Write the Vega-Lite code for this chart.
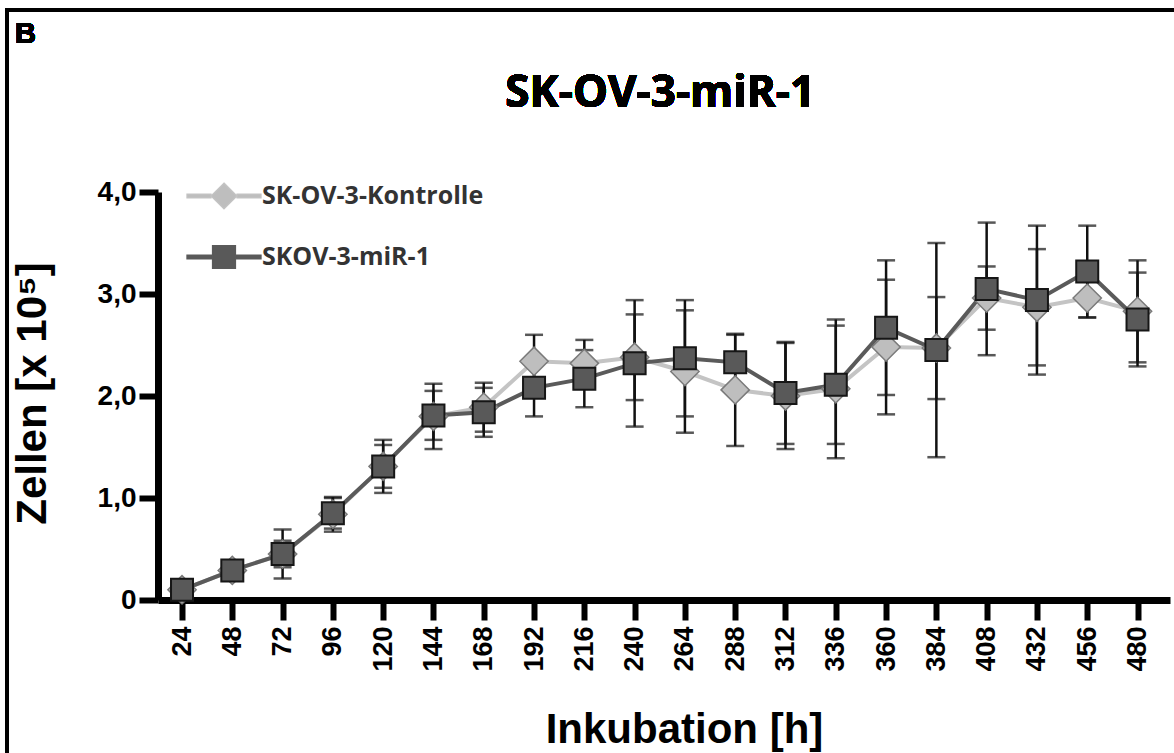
{
  "$schema": "https://vega.github.io/schema/vega-lite/v6.json",
  "autosize": {"type": "none"},
  "padding": {"left": 158, "top": 192, "right": 4, "bottom": 153},
  "width": 1012,
  "height": 408,
  "background": "white",
  "config": {"view": {"stroke": null}},
  "data": {"values": [
    {"hour": 24, "series": "SK-OV-3-Kontrolle", "mean": 0.10, "sd": 0.02},
    {"hour": 48, "series": "SK-OV-3-Kontrolle", "mean": 0.29, "sd": 0.04},
    {"hour": 72, "series": "SK-OV-3-Kontrolle", "mean": 0.45, "sd": 0.24},
    {"hour": 96, "series": "SK-OV-3-Kontrolle", "mean": 0.84, "sd": 0.17},
    {"hour": 120, "series": "SK-OV-3-Kontrolle", "mean": 1.31, "sd": 0.26},
    {"hour": 144, "series": "SK-OV-3-Kontrolle", "mean": 1.80, "sd": 0.32},
    {"hour": 168, "series": "SK-OV-3-Kontrolle", "mean": 1.89, "sd": 0.24},
    {"hour": 192, "series": "SK-OV-3-Kontrolle", "mean": 2.34, "sd": 0.26},
    {"hour": 216, "series": "SK-OV-3-Kontrolle", "mean": 2.32, "sd": 0.23},
    {"hour": 240, "series": "SK-OV-3-Kontrolle", "mean": 2.38, "sd": 0.42},
    {"hour": 264, "series": "SK-OV-3-Kontrolle", "mean": 2.24, "sd": 0.60},
    {"hour": 288, "series": "SK-OV-3-Kontrolle", "mean": 2.06, "sd": 0.55},
    {"hour": 312, "series": "SK-OV-3-Kontrolle", "mean": 2.00, "sd": 0.52},
    {"hour": 336, "series": "SK-OV-3-Kontrolle", "mean": 2.07, "sd": 0.68},
    {"hour": 360, "series": "SK-OV-3-Kontrolle", "mean": 2.48, "sd": 0.66},
    {"hour": 384, "series": "SK-OV-3-Kontrolle", "mean": 2.47, "sd": 0.50},
    {"hour": 408, "series": "SK-OV-3-Kontrolle", "mean": 2.96, "sd": 0.31},
    {"hour": 432, "series": "SK-OV-3-Kontrolle", "mean": 2.87, "sd": 0.57},
    {"hour": 456, "series": "SK-OV-3-Kontrolle", "mean": 2.96, "sd": 0.19},
    {"hour": 480, "series": "SK-OV-3-Kontrolle", "mean": 2.83, "sd": 0.50},
    {"hour": 24, "series": "SKOV-3-miR-1", "mean": 0.10, "sd": 0.02},
    {"hour": 48, "series": "SKOV-3-miR-1", "mean": 0.29, "sd": 0.03},
    {"hour": 72, "series": "SKOV-3-miR-1", "mean": 0.45, "sd": 0.13},
    {"hour": 96, "series": "SKOV-3-miR-1", "mean": 0.85, "sd": 0.15},
    {"hour": 120, "series": "SKOV-3-miR-1", "mean": 1.31, "sd": 0.21},
    {"hour": 144, "series": "SKOV-3-miR-1", "mean": 1.81, "sd": 0.24},
    {"hour": 168, "series": "SKOV-3-miR-1", "mean": 1.84, "sd": 0.24},
    {"hour": 192, "series": "SKOV-3-miR-1", "mean": 2.08, "sd": 0.28},
    {"hour": 216, "series": "SKOV-3-miR-1", "mean": 2.17, "sd": 0.28},
    {"hour": 240, "series": "SKOV-3-miR-1", "mean": 2.32, "sd": 0.62},
    {"hour": 264, "series": "SKOV-3-miR-1", "mean": 2.37, "sd": 0.57},
    {"hour": 288, "series": "SKOV-3-miR-1", "mean": 2.33, "sd": 0.27},
    {"hour": 312, "series": "SKOV-3-miR-1", "mean": 2.03, "sd": 0.50},
    {"hour": 336, "series": "SKOV-3-miR-1", "mean": 2.11, "sd": 0.58},
    {"hour": 360, "series": "SKOV-3-miR-1", "mean": 2.67, "sd": 0.66},
    {"hour": 384, "series": "SKOV-3-miR-1", "mean": 2.45, "sd": 1.05},
    {"hour": 408, "series": "SKOV-3-miR-1", "mean": 3.05, "sd": 0.65},
    {"hour": 432, "series": "SKOV-3-miR-1", "mean": 2.94, "sd": 0.73},
    {"hour": 456, "series": "SKOV-3-miR-1", "mean": 3.22, "sd": 0.45},
    {"hour": 480, "series": "SKOV-3-miR-1", "mean": 2.75, "sd": 0.46}
  ]},
  "encoding": {
    "x": {"field": "hour", "type": "quantitative",
      "scale": {"domain": [12.54, 495.5], "nice": false, "zero": false},
      "axis": {"title": "Inkubation [h]", "values": [24,48,72,96,120,144,168,192,216,240,264,288,312,336,360,384,408,432,456,480],
        "grid": false, "labelAngle": -90, "labelFont": "Liberation Sans", "labelFontSize": 27, "labelFontWeight": "bold", "labelColor": "#000",
        "labelPadding": 6, "tickSize": 20, "tickWidth": 6, "tickColor": "#000", "domainWidth": 7, "domainColor": "#000",
        "labelOverlap": false, "labelBound": false, "labelFlush": false,
        "titleFont": "Liberation Sans", "titleFontSize": 42, "titleFontWeight": "bold", "titleColor": "#000",
        "titleX": 526, "titleY": 142, "titleBaseline": "alphabetic", "titleAlign": "center"}},
    "y": {"field": "mean", "type": "quantitative",
      "scale": {"domain": [0, 4], "nice": false, "zero": false},
      "axis": {"title": "Zellen [x 10⁵]", "values": [0,1,2,3,4], "grid": false,
        "labelExpr": "datum.value === 0 ? '0' : replace(format(datum.value, '.1f'), '.', ',')",
        "labelFont": "Liberation Sans", "labelFontSize": 28, "labelFontWeight": "bold", "labelColor": "#000", "labelPadding": 3,
        "tickSize": 19, "tickWidth": 6, "tickColor": "#000", "domainWidth": 7, "domainColor": "#000",
        "labelOverlap": false, "labelBound": false, "labelFlush": false,
        "titleFont": "Liberation Sans", "titleFontSize": 42, "titleFontWeight": "bold", "titleColor": "#000",
        "titleX": -113, "titleY": 201, "titleBaseline": "alphabetic", "titleAlign": "center", "titleAngle": -90}}
  },
  "layer": [
    {
      "mark": {"type": "line", "strokeWidth": 4},
      "encoding": {
        "stroke": {"field": "series", "type": "nominal",
          "scale": {"domain": ["SK-OV-3-Kontrolle", "SKOV-3-miR-1"], "range": ["#c4c4c4", "#5a5a5a"]},
          "legend": {"orient": "none", "legendX": 52, "legendY": -10, "title": null,
            "symbolSize": 676, "labelOffset": 24, "rowPadding": 31,
            "labelFont": "Open Sans", "labelFontWeight": "bold", "labelFontSize": 25, "labelColor": "#333", "labelLimit": 500,
            "encoding": {"symbols": {
              "shape": {"value": {"expr": "datum.value === 'SK-OV-3-Kontrolle' ? 'M-2.85,-0.15L-1,-0.15L-1,0.15L-2.85,0.15Z M1,-0.15L2.85,-0.15L2.85,0.15L1,0.15Z M0,-1L1,0L0,1L-1,0Z' : 'M-2.85,-0.15L-0.885,-0.15L-0.885,0.15L-2.85,0.15Z M0.885,-0.15L2.85,-0.15L2.85,0.15L0.885,0.15Z M-0.885,-0.885L0.885,-0.885L0.885,0.885L-0.885,0.885Z'"}},
              "fill": {"value": {"expr": "datum.value === 'SK-OV-3-Kontrolle' ? '#bebebe' : '#595959'"}},
              "stroke": {"value": {"expr": "datum.value === 'SK-OV-3-Kontrolle' ? '#9a9a9a' : '#161616'"}},
              "strokeWidth": {"value": 1.2},
              "fillOpacity": {"value": 1},
              "opacity": {"value": 1}
            }}}}
      }
    },
    {
      "mark": {"type": "errorbar", "ticks": {"size": 18, "thickness": 2.5, "color": "#111"}, "rule": {"strokeWidth": 2.5, "color": "#111"}},
      "encoding": {"yError": {"field": "sd"}}
    },
    {
      "transform": [{"filter": "datum.series === 'SK-OV-3-Kontrolle'"}],
      "mark": {"type": "point", "shape": "diamond", "filled": true, "fill": "#bebebe", "stroke": "#7a7a7a", "strokeWidth": 1.5, "size": 800, "opacity": 1}
    },
    {
      "transform": [{"filter": "datum.series === 'SKOV-3-miR-1'"}],
      "mark": {"type": "point", "shape": "square", "filled": true, "fill": "#595959", "stroke": "#161616", "strokeWidth": 2, "size": 484, "opacity": 1}
    },
    {
      "mark": {"type": "rule", "color": "#000", "strokeWidth": 3},
      "encoding": {"x": {"datum": -59.6}, "x2": {"datum": 505}, "y": {"datum": 5.784}}
    },
    {
      "mark": {"type": "rule", "color": "#000", "strokeWidth": 3},
      "encoding": {"x": {"datum": -59.6}, "y": {"datum": 5.8}, "y2": {"datum": -1.8}}
    },
    {
      "mark": {"type": "text", "align": "left", "baseline": "alphabetic", "font": "Liberation Sans", "fontSize": 29, "fontWeight": "bold", "color": "#000"},
      "encoding": {"x": {"datum": -55.7}, "y": {"datum": 5.457}, "text": {"value": "B"}}
    },
    {
      "mark": {"type": "text", "align": "center", "baseline": "alphabetic", "font": "Open Sans", "fontSize": 44, "fontWeight": "bold", "color": "#000"},
      "encoding": {"x": {"datum": 252.2}, "y": {"datum": 4.83}, "text": {"value": "SK-OV-3-miR-1"}}
    }
  ]
}
